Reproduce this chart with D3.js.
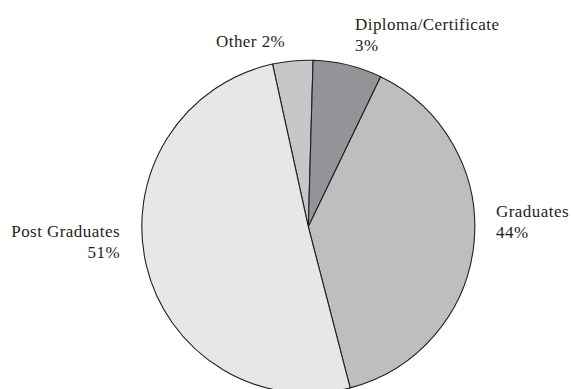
<!DOCTYPE html>
<html><head><meta charset="utf-8">
<script src="https://cdn.jsdelivr.net/npm/d3@7"></script>
<style>body{margin:0;background:#fff;}svg{display:block;} text{font-family:"Liberation Serif","Times New Roman",serif;}</style>
</head><body>
<script>
// Slice order clockwise, starting at the left edge of "Other"
const categories = ["Other", "Diploma/Certificate", "Graduates", "Post Graduates"];
// Slice sizes as drawn in the picture (share of the circle, %)
const sliceValues = [3.9, 6.7, 38.8, 50.6];
// Percentages printed in the labels
const labelPercents = ["2%", "3%", "44%", "51%"];
const colors = ["#c6c7c9", "#929497", "#bcbec0", "#e6e7e8"];

const W = 571, H = 389;
const cx = 308.3, cy = 226.7, R = 166.5;
const startDeg = -12.4;

const svg = d3.select("body").append("svg").attr("width", W).attr("height", H);
const g = svg.append("g").attr("transform", `translate(${cx},${cy})`);

const start = startDeg * Math.PI / 180;
const pie = d3.pie().sort(null).value(d => d.v).startAngle(start).endAngle(start + 2 * Math.PI);
const arc = d3.arc().innerRadius(0).outerRadius(R);
const data = categories.map((c, i) => ({c, v: sliceValues[i], col: colors[i]}));

g.selectAll("path").data(pie(data)).join("path")
  .attr("d", arc)
  .attr("fill", d => d.data.col)
  .attr("stroke", "#231f20")
  .attr("stroke-width", 1.1)
  .attr("stroke-linejoin", "round");

const labels = [
  {lines: ["Other " + labelPercents[0]], x: 216, y: 46.7, anchor: "start"},
  {lines: [categories[1], labelPercents[1]], x: 355, y: 29.5, anchor: "start"},
  {lines: [categories[2], labelPercents[2]], x: 496, y: 216.5, anchor: "start"},
  {lines: [categories[3], labelPercents[3]], x: 120, y: 236.5, anchor: "end"}
];
const lh = 21.5;
labels.forEach(l => {
  const t = svg.append("text")
    .attr("x", l.x).attr("y", l.y)
    .attr("text-anchor", l.anchor)
    .attr("font-size", 17)
    .attr("letter-spacing", 0.45)
    .attr("fill", "#231f20");
  l.lines.forEach((s, i) => {
    t.append("tspan").attr("x", l.x).attr("dy", i === 0 ? 0 : lh).text(s);
  });
});
</script>
</body></html>
